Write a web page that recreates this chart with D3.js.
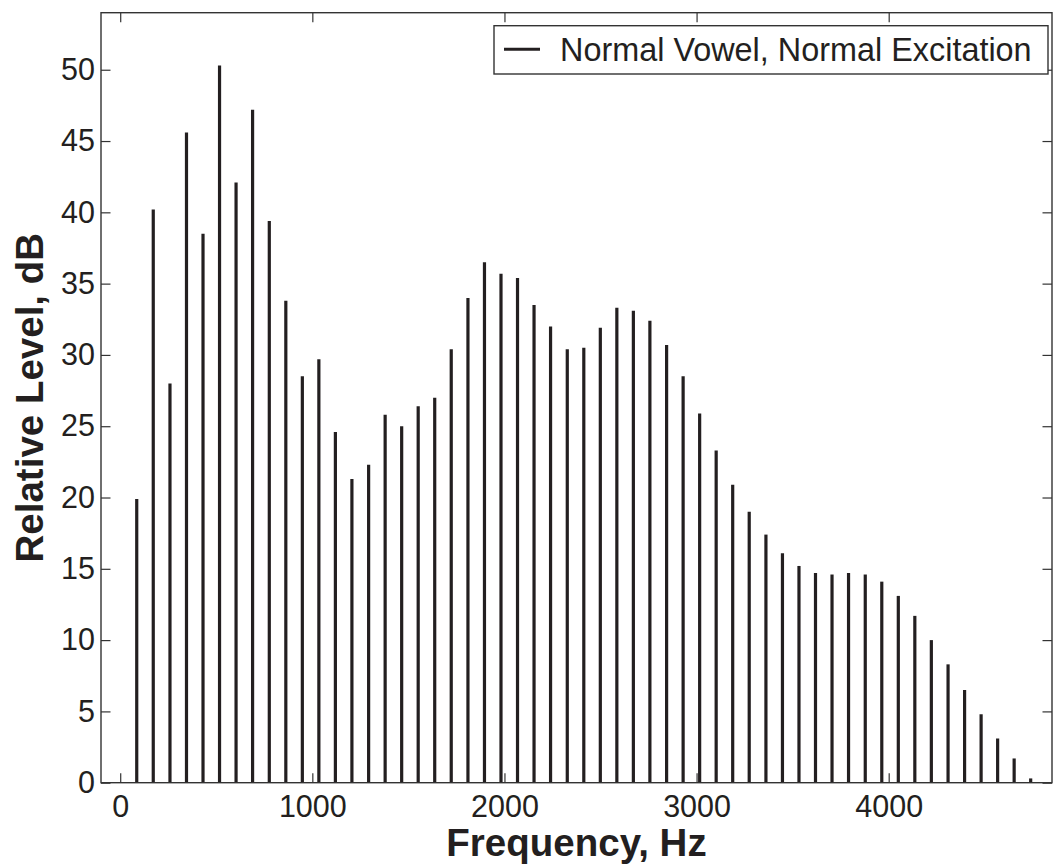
<!DOCTYPE html>
<html>
<head>
<meta charset="utf-8">
<script src="https://cdn.jsdelivr.net/npm/d3@7/dist/d3.min.js"></script>
<style>
  body { margin: 0; background: #fff; }
  text { font-family: "Liberation Sans", Arial, Helvetica, sans-serif; fill: #231f20; }
</style>
</head>
<body>
<div id="chart"></div>
<script>
// harmonic frequencies (Hz) and their levels (dB)
const freqs = [86, 172, 259, 345, 431, 517, 603, 689, 776, 862,
  948, 1034, 1120, 1206, 1293, 1379, 1465, 1551, 1637, 1723,
  1810, 1896, 1982, 2068, 2154, 2240, 2327, 2413, 2499, 2585,
  2671, 2757, 2844, 2930, 3016, 3102, 3188, 3274, 3361, 3447,
  3533, 3619, 3705, 3791, 3878, 3964, 4050, 4136, 4222, 4309,
  4395, 4481, 4567, 4653, 4739];
const levels = [19.9, 40.2, 28.0, 45.6, 38.5, 50.3, 42.1, 47.2, 39.4, 33.8,
  28.5, 29.7, 24.6, 21.3, 22.3, 25.8, 25.0, 26.4, 27.0, 30.4,
  34.0, 36.5, 35.7, 35.4, 33.5, 32.0, 30.4, 30.5, 31.9, 33.3,
  33.1, 32.4, 30.7, 28.5, 25.9, 23.3, 20.9, 19.0, 17.4, 16.1,
  15.2, 14.7, 14.6, 14.7, 14.6, 14.1, 13.1, 11.7, 10.0, 8.3,
  6.5, 4.8, 3.1, 1.7, 0.3];
const xTicks = [0, 1000, 2000, 3000, 4000];
const yTicks = [0, 5, 10, 15, 20, 25, 30, 35, 40, 45, 50];
const legendLabel = 'Normal Vowel, Normal Excitation';

const W = 1053, H = 865;
const mLeft = 101, mRight = 1052, mTop = 12.7, mBottom = 782.7;

const svg = d3.select('#chart').append('svg')
    .attr('width', W)
    .attr('height', H);

const x = d3.scaleLinear().domain([-100, 4850]).range([mLeft, mRight]);
const y = d3.scaleLinear().domain([0, 54]).range([mBottom, mTop]);

const data = freqs.map((f, i) => ({ f, v: levels[i] }));

// stems
svg.append('g')
  .selectAll('line')
  .data(data)
  .enter()
  .append('line')
    .attr('x1', d => x(d.f))
    .attr('x2', d => x(d.f))
    .attr('y1', y(0))
    .attr('y2', d => y(d.v))
    .attr('stroke', '#231f20')
    .attr('stroke-width', 3.2);

const tick = 9.5;
const fontTick = 30.5;

const styleAxis = g => {
  g.select('.domain').remove();
  g.selectAll('.tick line').attr('stroke', '#333').attr('stroke-width', 1.2);
  g.selectAll('text').attr('font-size', fontTick).attr('fill', '#231f20')
    .style('font-family', '"Liberation Sans", Arial, sans-serif');
};

svg.append('g')
    .attr('transform', `translate(0, ${mBottom})`)
  .call(d3.axisBottom(x).tickValues(xTicks).tickFormat(d3.format('d'))
    .tickSizeInner(-tick).tickSizeOuter(0).tickPadding(13))
  .call(styleAxis);

svg.append('g')
    .attr('transform', `translate(0, ${mTop})`)
  .call(d3.axisTop(x).tickValues(xTicks).tickSizeInner(-tick).tickSizeOuter(0).tickFormat(''))
  .call(styleAxis);

svg.append('g')
    .attr('transform', `translate(${mLeft}, 0)`)
  .call(d3.axisLeft(y).tickValues(yTicks).tickFormat(d3.format('d'))
    .tickSizeInner(-tick).tickSizeOuter(0).tickPadding(6))
  .call(styleAxis);

svg.append('g')
    .attr('transform', `translate(${mRight}, 0)`)
  .call(d3.axisRight(y).tickValues(yTicks).tickSizeInner(-tick).tickSizeOuter(0).tickFormat(''))
  .call(styleAxis);

// box
svg.append('rect')
    .attr('x', mLeft)
    .attr('y', mTop)
    .attr('width', mRight - mLeft)
    .attr('height', mBottom - mTop)
    .attr('fill', 'none')
    .attr('stroke', '#333')
    .attr('stroke-width', 1.4);

// axis titles
svg.append('text')
    .attr('x', (mLeft + mRight) / 2)
    .attr('y', 856)
    .attr('text-anchor', 'middle')
    .attr('font-size', 38.5)
    .attr('font-weight', 'bold')
    .text('Frequency, Hz');

svg.append('text')
    .attr('transform', `translate(43, ${(mTop + mBottom) / 2}) rotate(-90)`)
    .attr('text-anchor', 'middle')
    .attr('font-size', 38.5)
    .attr('font-weight', 'bold')
    .text('Relative Level, dB');

// legend
const lg = svg.append('g');
lg.append('rect')
    .attr('x', 494)
    .attr('y', 25.7)
    .attr('width', 1048 - 494)
    .attr('height', 74 - 25.7)
    .attr('fill', '#fff')
    .attr('stroke', '#333')
    .attr('stroke-width', 1.4);
lg.append('line')
    .attr('x1', 504)
    .attr('x2', 540)
    .attr('y1', 49.3)
    .attr('y2', 49.3)
    .attr('stroke', '#231f20')
    .attr('stroke-width', 3);
lg.append('text')
    .attr('x', 560)
    .attr('y', 61)
    .attr('font-size', 32.4)
    .text(legendLabel);
</script>
</body>
</html>
